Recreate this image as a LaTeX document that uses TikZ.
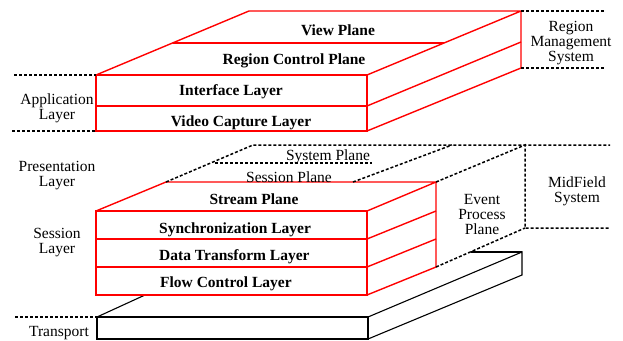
\documentclass[tikz,border=0pt]{standalone}
\usepackage{fontspec}
\setmainfont{Liberation Serif}
\begin{document}
\begin{tikzpicture}[x=1pt,y=-1pt,
  redln/.style={draw=red,line width=1.4pt,line join=miter},
  blkln/.style={draw=black,line width=1.1pt},
  dashln/.style={draw=black,line width=1.5pt,dash pattern=on 3pt off 2pt},
  lay/.style={font=\fontsize{15.5}{15}\selectfont\bfseries,inner sep=0pt},
  side/.style={font=\fontsize{15.5}{15}\selectfont,align=center,inner sep=0pt}]
\useasboundingbox (0,0) rectangle (623,340);
% ---------- top block ----------
\coordinate (a1) at (96,75);  \coordinate (a2) at (367,75);
\coordinate (a3) at (96,106); \coordinate (a4) at (367,106);
\coordinate (a5) at (96,131); \coordinate (a6) at (367,131);
\coordinate (b1) at (249,11); \coordinate (b2) at (521,11);
\coordinate (b4) at (521,42); \coordinate (b6) at (521,68);
\coordinate (d1) at (172.5,43); \coordinate (d2) at (444,43);
\draw[redln] (a1) -- (a2) -- (a6) -- (a5) -- cycle;
\draw[redln] (a3) -- (a4);
\draw[redln] (a1) -- (b1) -- (b2) -- (a2);
\draw[redln] (b2) -- (b6) -- (a6);
\draw[redln] (a4) -- (b4);
\draw[redln] (d1) -- (d2);
\node[lay] (tview) at (338,30) {View Plane};
\node[lay] (tregion) at (294,61) {Region Control Plane};
\node[lay] (tiface) at (231,92) {Interface Layer};
\node[lay] (tvideo) at (241,123) {Video Capture Layer};
% dashed guides top
\coordinate (l1) at (14,75); \coordinate (l2) at (12,131);
\coordinate (r1) at (605,11); \coordinate (r2) at (605,68);
\draw[dashln] (l1) -- (a1);
\draw[dashln] (l2) -- (a5);
\draw[dashln] (b2) -- (r1);
\draw[dashln] (b6) -- (r2);
\node[side] (rms) at (571,43) {Region\\Management\\System};
\node[side] (app) at (57,108.5) {Application\\Layer};
% ---------- transport block ----------
\coordinate (t1) at (97,317); \coordinate (t2) at (368,317);
\coordinate (t3) at (368,339); \coordinate (t4) at (97,339);
\coordinate (t5) at (522,252); \coordinate (t6) at (522,275);
\coordinate (t7) at (145,295); \coordinate (t8) at (471,252);
\draw[blkln] (t1) -- (t2) -- (t3) -- (t4) -- cycle;
\draw[blkln] (t2) -- (t5) -- (t6) -- (t3);
\draw[blkln] (t1) -- (t7);
\draw[blkln] (t8) -- (t5);
\coordinate (l3) at (15,317);
\draw[dashln] (l3) -- (t1);
\node[side] (trans) at (59,333) {Transport};
% ---------- middle block ----------
\coordinate (m1) at (96,211);  \coordinate (m2) at (367,211);
\coordinate (m3) at (96,239);  \coordinate (m4) at (367,239);
\coordinate (m5) at (96,267);  \coordinate (m6) at (367,267);
\coordinate (m7) at (96,295);  \coordinate (m8) at (367,295);
\coordinate (n1) at (166,182); \coordinate (n2) at (436,182);
\coordinate (n4) at (436,211); \coordinate (n6) at (436,239);
\coordinate (n8) at (436,267);
\fill[white] (m1) -- (m2) -- (m8) -- (m7) -- cycle;
\draw[redln] (m1) -- (m2) -- (m8) -- (m7) -- cycle;
\draw[redln] (m3) -- (m4);
\draw[redln] (m5) -- (m6);
\draw[redln] (m1) -- (n1) -- (n2) -- (m2);
\draw[redln] (n2) -- (n8) -- (m8);
\draw[redln] (m4) -- (n4);
\draw[redln] (m6) -- (n6);
\node[lay] (tstream) at (254,199) {Stream Plane};
\node[lay,anchor=west] (tsync) at (159,230) {Synchronization Layer};
\node[lay,anchor=west] (tdata) at (159,257) {Data Transform Layer};
\node[lay,anchor=west] (tflow) at (160,284) {Flow Control Layer};
% dashed MidField frame
\coordinate (p1) at (253,145); \coordinate (p2) at (525,145);
\coordinate (p3) at (610,145); \coordinate (p4) at (525,228);
\coordinate (p5) at (610,228);
\coordinate (s1) at (215,163); \coordinate (s2) at (372,163);
\coordinate (s3) at (353,182); \coordinate (s4) at (452,145);
\draw[dashln] (n1) -- (p1) -- (p3);
\draw[dashln] (s1) -- (s2);
\draw[dashln] (s3) -- (s4);
\draw[dashln] (n2) -- (p2) -- (p4) -- (p5);
\draw[dashln] (n8) -- (p4);
\node[side] (tsys) at (328,157) {System Plane};
\node[side] (tsess) at (289,177) {Session Plane};
\node[side] (tevent) at (482,214) {Event\\Process\\Plane};
\node[side] (tmid) at (577,191.5) {MidField\\System};
\node[side] (pres) at (57,175.5) {Presentation\\Layer};
\node[side] (sessl) at (57,243) {Session\\Layer};
\end{tikzpicture}
\end{document}
